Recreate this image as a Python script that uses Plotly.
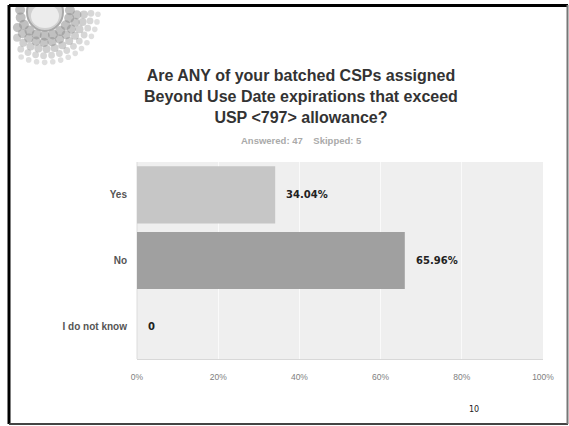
import numpy as np
import plotly.graph_objects as go

categories = ["Yes", "No", "I do not know"]
values = [34.04, 65.96, 0]
value_labels = ["34.04%", "65.96%", "0"]
bar_colors = ["#c6c6c6", "#a0a0a0", "#c6c6c6"]
x_ticks = [0, 20, 40, 60, 80, 100]
x_tick_labels = ["0%", "20%", "40%", "60%", "80%", "100%"]
title_lines = ["Are ANY of your batched CSPs assigned",
               "Beyond Use Date expirations that exceed",
               "USP &lt;797&gt; allowance?"]
subtitle = "Answered: 47    Skipped: 5"
page_number = "10"

W, H = 569, 426
L, R, T, B = 137, 543, 162, 359

def px(x):
    return (x - L) / (R - L)

def py(y):
    return (B - y) / (B - T)

fig = go.Figure()
fig.add_trace(go.Bar(
    y=categories, x=values, orientation="h",
    marker=dict(color=bar_colors, line=dict(width=0)),
    width=0.87, hoverinfo="skip",
))

annotations = []
for c, v, t in zip(categories, values, value_labels):
    annotations.append(dict(x=v, y=c, xref="x", yref="y", text="<b>%s</b>" % t,
                            showarrow=False, xanchor="left", xshift=9,
                            font=dict(family="DejaVu Sans", size=10, color="#222")))

annotations.append(dict(x=px(301), y=py(96), xref="paper", yref="paper",
                        text="<b>" + "<br>".join(title_lines) + "</b>",
                        showarrow=False, xanchor="center", yanchor="middle",
                        align="center",
                        font=dict(family="Liberation Sans", size=16, color="#333"),
                        ))
annotations.append(dict(x=px(301), y=py(140), xref="paper", yref="paper",
                        text="<b>" + subtitle.replace(" ", "&nbsp;") + "</b>",
                        showarrow=False, xanchor="center", yanchor="middle",
                        font=dict(family="Liberation Sans", size=9.5, color="#aaa")))
annotations.append(dict(x=px(474), y=py(409), xref="paper", yref="paper",
                        text=page_number, showarrow=False, xanchor="center", yanchor="middle",
                        font=dict(family="DejaVu Sans", size=8, color="#222")))

shapes = []
# logo: dotted sun
cx, cy = 45, 12
for r, s, op in [(25, 5.0, 0.55), (32, 4.6, 0.5), (39, 4.0, 0.42), (46, 3.4, 0.35), (53, 2.8, 0.28)]:
    n = int(2 * np.pi * r / 8)
    for k in range(n):
        a = 2 * np.pi * k / n + r * 0.05
        x0 = cx + r * np.cos(a)
        y0 = cy + r * np.sin(a) * 0.95
        if y0 < 8 or x0 < 15:
            continue
        shapes.append(dict(type="circle", xref="paper", yref="paper",
                           x0=px(x0 - s), x1=px(x0 + s), y0=py(y0 + s), y1=py(y0 - s),
                           fillcolor="rgba(140,140,140,%.2f)" % op, line=dict(width=0), layer="above"))
shapes.append(dict(type="circle", xref="paper", yref="paper",
                   x0=px(cx - 18), x1=px(cx + 18), y0=py(cy + 19), y1=py(cy - 19),
                   fillcolor="#d0d0d0", line=dict(color="#a8a8a8", width=2), layer="above"))
shapes.append(dict(type="circle", xref="paper", yref="paper",
                   x0=px(cx - 14), x1=px(cx + 14), y0=py(cy + 16), y1=py(cy - 8),
                   fillcolor="#ececec", line=dict(width=0), layer="above"))
# slide frame
shapes.append(dict(type="rect", xref="paper", yref="paper",
                   x0=px(0), x1=px(569), y0=py(0), y1=py(5),
                   fillcolor="white", line=dict(width=0), layer="above"))
shapes.append(dict(type="line", xref="paper", yref="paper",
                   x0=px(9), x1=px(9), y0=py(5), y1=py(424),
                   line=dict(color="#000", width=3), layer="above"))
shapes.append(dict(type="line", xref="paper", yref="paper",
                   x0=px(9), x1=px(568), y0=py(5.5), y1=py(5.5),
                   line=dict(color="#000", width=3), layer="above"))
shapes.append(dict(type="line", xref="paper", yref="paper",
                   x0=px(9), x1=px(568), y0=py(424), y1=py(424),
                   line=dict(color="#444", width=2), layer="above"))
shapes.append(dict(type="line", xref="paper", yref="paper",
                   x0=px(567.5), x1=px(567.5), y0=py(5), y1=py(424),
                   line=dict(color="#777", width=2), layer="above"))
# left axis line
shapes.append(dict(type="line", xref="paper", yref="paper",
                   x0=0, x1=0, y0=0, y1=1, line=dict(color="#dcdcdc", width=1), layer="below"))

fig.update_layout(
    width=W, height=H,
    margin=dict(l=L, r=W - R, t=T, b=H - B, pad=0),
    paper_bgcolor="white", plot_bgcolor="#efefef",
    showlegend=False,
    bargap=0.13,
    annotations=annotations,
    shapes=shapes,
    xaxis=dict(range=[0, 100], tickvals=x_ticks, ticktext=x_tick_labels,
               showgrid=True, gridcolor="#fafafa", gridwidth=1,
               zeroline=False, showline=True, linecolor="#d8d8d8", linewidth=1,
               ticks="outside", ticklen=10, tickcolor="rgba(0,0,0,0)",
               tickfont=dict(family="Liberation Sans", size=8.5, color="#808080"),
               fixedrange=True),
    yaxis=dict(categoryorder="array", categoryarray=categories[::-1],
               showgrid=False, zeroline=False, showline=False,
               ticks="outside", ticklen=7, tickcolor="rgba(0,0,0,0)",
               tickprefix="<b>", ticksuffix="</b>",
               tickfont=dict(family="Liberation Sans", size=10, color="#555"),
               fixedrange=True),
)

fig.write_html("out.html", config={"displayModeBar": False},
               post_script="document.body.style.margin='0';document.body.style.overflow='hidden';")
